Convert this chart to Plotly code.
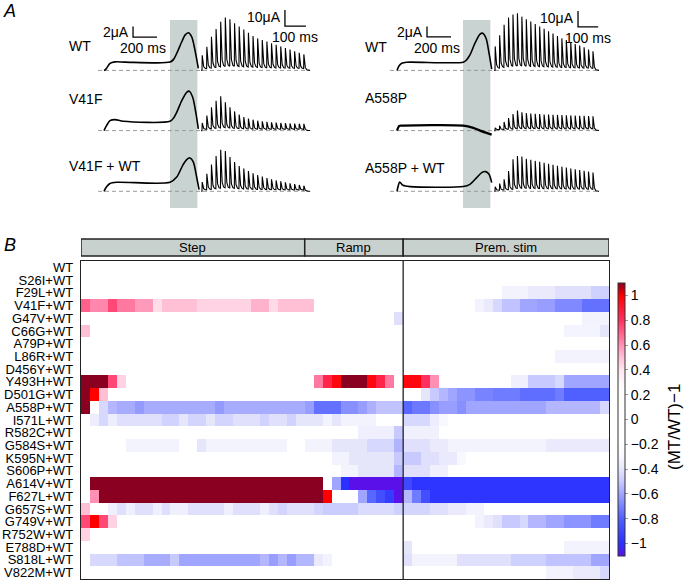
import numpy as np
import plotly.graph_objects as go

W, H = 687, 582
FONT = "Liberation Sans, Arial, Helvetica, sans-serif"

# ============================ DATA ============================
# ---- Panel A : step + ramp part (key points; ms, uA) ----
ramp_window_ms = [550, 778]
step_scale = (200, 2)      # ms, uA
spike_scale = (100, 10)    # ms, uA
spike_interval_ms = 22

wt_left_step_t = [0, 12, 25, 50, 92, 175, 550, 580, 606, 648, 675, 703, 731, 758, 786]
wt_left_step_i = [0, 0.15, 0.53, 1.33, 1.62, 1.58, 1.58, 2.1, 3.24, 5.45, 6.72, 7.16, 6.4, 3.87, 0.38]
v41f_step_t = [0, 20, 50, 92, 161, 550, 580, 606, 648, 689, 711, 739, 767, 786]
v41f_step_i = [0, 0.9, 1.9, 2.1, 1.77, 1.77, 2.4, 3.49, 5.71, 7.3, 7.5, 6.35, 3.18, 0.32]
v41f_wt_step_t = [0, 20, 50, 106, 550, 606, 656, 689, 717, 744, 772, 792]
v41f_wt_step_i = [0, 0.8, 1.47, 1.71, 1.71, 2.72, 4.95, 6.05, 6.36, 5.6, 2.72, 0.32]

wt_right_step_t = [0, 15, 40, 80, 553, 580, 608, 650, 692, 714, 742, 767, 789]
wt_right_step_i = [0, 0.8, 1.37, 1.56, 1.56, 2.0, 2.95, 5.18, 6.9, 7.09, 6.13, 3.28, 0.23]
a558p_step_t = [0, 19, 40, 553, 636, 692, 747, 789]
a558p_step_i = [0, 0.9, 0.95, 0.95, 0.51, 0.0, -0.44, -0.76]
a558p_wt_step_t = [0, 10, 22, 50, 108, 553, 608, 664, 706, 739, 767, 789]
a558p_wt_step_i = [0, 1.0, 1.77, 1.14, 0.9, 0.9, 1.33, 2.6, 3.56, 3.75, 3.24, 1.65]

# ---- Panel A : premature-stimulus spike peaks (uA) ----
wt_left_spikes = [9.5, 14.8, 21, 25.8, 30.4, 33, 32, 29.5, 27.5, 25.5, 23.5, 21.5,
                  20, 19, 18, 17, 16, 15, 14, 13, 12, 11, 10]
v41f_spikes = [4.8, 9.4, 14.6, 18.7, 21.4, 17.7, 14.6, 12, 10, 8.5, 7.5, 6.8,
               6.2, 5.8, 5.5, 5.2, 5, 4.8, 4.6, 4.5, 4.4, 4.3, 4.2]
v41f_wt_spikes = [5.8, 11, 16.7, 22, 26, 25.2, 21.4, 18.3, 15.8, 14.2, 12.7, 11.3,
                  10.2, 9.2, 8.3, 7.5, 6.8, 6.2, 5.6, 5, 4.5, 4, 3.5]
wt_right_spikes = [15, 22, 28.5, 33, 35, 35.7, 33.6, 32, 30.5, 29, 27.5, 26,
                   24.5, 23, 21.5, 20, 19, 17.5, 16.5, 15.5, 14.5, 13, 12]
a558p_spikes = [1.7, 3.1, 5.4, 7.9, 10.4, 12.5, 11.4, 11, 10.7, 10.5, 10.3, 10.1,
                10, 9.9, 9.8, 9.7, 9.6, 9.5, 9.4, 9.3, 9.2, 9.1, 9]
a558p_wt_spikes = [2.9, 4.8, 7.5, 12.7, 20, 22, 21.7, 20.4, 19.7, 19, 18.4, 17.8,
                   17.2, 16.6, 16, 15.4, 14.8, 14.3, 13.8, 13.3, 12.8, 12.3, 11.7]

trace_labels_left = ["WT", "V41F", "V41F + WT"]
trace_labels_right = ["WT", "A558P", "A558P + WT"]

# ---- Panel B : heat map ----
mutants = ["WT", "S26I+WT", "F29L+WT", "V41F+WT", "G47V+WT", "C66G+WT", "A79P+WT",
           "L86R+WT", "D456Y+WT", "Y493H+WT", "D501G+WT", "A558P+WT", "I571L+WT",
           "R582C+WT", "G584S+WT", "K595N+WT", "S606P+WT", "A614V+WT", "F627L+WT",
           "G657S+WT", "G749V+WT", "R752W+WT", "E788D+WT", "S818L+WT", "V822M+WT"]
sections = ["Step", "Ramp", "Prem. stim"]
section_ncols = [25, 11, 23]

# run-length rows: (number of columns, value of (MT/WT)-1)
heat_runs = [
    [(59, 0)],
    [(59, 0)],
    [(47, 0), (3, -0.33), (3, -0.38), (4, -0.42), (2, -0.48)],
    [(1, 0.7), (2, 0.62), (1, 0.75), (2, 0.65), (2, 0.58), (1, 0.42), (4, 0.5), (6, 0.45),
     (2, 0.53), (1, 0.43), (4, 0.5), (18, 0), (1, -0.33), (1, -0.38), (1, -0.45), (2, -0.52),
     (2, -0.6), (2, -0.62), (3, -0.68), (3, -0.75)],
    [(35, 0), (1, -0.42), (20, 0), (3, -0.33)],
    [(1, 0.5), (53, 0), (4, -0.32), (1, -0.4)],
    [(59, 0)],
    [(53, 0), (6, -0.33)],
    [(59, 0)],
    [(3, 1.3), (1, 0.75), (1, 0.45), (21, 0), (1, 0.65), (1, 0.85), (1, 0.97), (3, 1.3),
     (1, 0.97), (1, 0.85), (1, 0.65), (1, 0), (2, 0.97), (1, 0.8), (1, 0.6), (8, 0),
     (2, -0.35), (3, -0.5), (1, -0.45), (5, -0.6)],
    [(1, 1.3), (1, 1.0), (1, 0.5), (35, 0), (1, -0.4), (1, -0.5), (1, -0.55), (1, -0.6),
     (2, -0.65), (2, -0.7), (3, -0.72), (4, -0.76), (1, -0.72), (5, -0.8)],
    [(1, 1.3), (1, 0), (1, -0.45), (1, -0.55), (2, -0.58), (1, -0.63), (8, -0.58), (1, -0.63),
     (9, -0.58), (1, -0.62), (3, -0.75), (2, -0.66), (1, -0.62), (1, -0.57), (3, -0.52),
     (1, -0.78), (2, -0.73), (1, -0.66), (2, -0.62), (1, -0.66), (9, -0.6), (6, -0.55), (1, -0.45)],
    [(1, 0), (1, -0.36), (1, -0.45), (1, -0.36), (5, -0.42), (2, -0.47), (1, -0.4), (2, -0.46),
     (1, -0.4), (2, -0.46), (3, -0.42), (1, -0.47), (2, -0.42), (1, -0.47), (3, -0.4),
     (1, -0.33), (1, -0.4), (4, -0.33), (3, 0), (3, -0.45), (1, -0.36), (1, -0.3), (18, 0)],
    [(31, 0), (4, -0.35), (1, -0.5), (4, -0.34), (19, 0)],
    [(5, 0), (6, -0.33), (2, 0), (1, -0.4), (9, -0.33), (2, 0), (3, -0.33), (4, -0.4),
     (3, -0.45), (1, -0.56), (3, -0.42), (2, -0.38), (11, -0.33), (7, -0.38)],
    [(28, 0), (2, -0.33), (5, -0.4), (1, -0.5), (2, -0.5), (2, -0.42), (2, -0.38), (1, -0.3), (16, 0)],
    [(29, 0), (2, -0.33), (4, -0.4), (1, -0.55), (3, -0.42), (2, -0.35), (18, 0)],
    [(1, 0), (26, 1.3), (1, 0), (1, -0.6), (1, -1.0), (6, -1.12), (1, -0.9), (22, -0.98)],
    [(1, 0), (1, 0.6), (25, 1.3), (1, 1.0), (3, 0), (1, -0.6), (1, -0.78), (1, -0.87),
     (1, -0.95), (1, -1.12), (1, -0.55), (1, -0.72), (1, -0.87), (20, -0.98)],
    [(1, 0.5), (2, 0), (1, -0.35), (1, -0.42), (1, -0.35), (2, -0.42), (1, -0.35), (1, -0.42),
     (2, -0.35), (4, -0.42), (1, -0.35), (3, -0.42), (1, -0.35), (1, -0.42), (1, -0.46),
     (3, -0.42), (1, -0.46), (4, -0.49), (4, -0.44), (1, -0.48), (3, -0.46), (2, -0.42),
     (2, -0.38), (2, -0.33), (14, 0)],
    [(1, 0.75), (1, 1.0), (1, 0.75), (1, 0.45), (40, 0), (1, -0.33), (1, -0.38), (1, -0.42),
     (2, -0.5), (1, -0.45), (2, -0.55), (2, -0.6), (3, -0.65), (2, -0.72)],
    [(1, 0.45), (58, 0)],
    [(36, 0), (1, -0.4), (17, 0), (5, -0.33)],
    [(1, 0), (3, -0.45), (3, -0.52), (3, -0.58), (1, -0.5), (9, -0.6), (1, -0.55), (1, -0.62),
     (1, -0.55), (1, -0.62), (2, -0.55), (1, -0.38), (1, -0.33), (8, 0), (1, -0.42), (5, -0.33),
     (6, -0.42), (4, -0.48), (5, -0.52), (2, -0.6)],
    [(52, 0), (3, -0.33), (3, -0.38), (1, -0.45)],
]
cbar_ticks = [1, 0.8, 0.6, 0.4, 0.2, 0, -0.2, -0.4, -0.6, -0.8, -1]
cbar_title = "(MT/WT)\u22121"
zmin, zmax = -1.1, 1.1
color_stops = [(-1.1, "#5a10e8"), (-1.0, "#2a30ff"), (-0.8, "#5060ff"), (-0.6, "#a0a5ff"),
               (-0.5, "#c8caff"), (-0.4, "#e6e6fb"), (-0.3, "#f8f8ff"), (-0.2, "#ffffff"),
               (0.2, "#ffffff"), (0.3, "#fff8fb"), (0.4, "#ffe6ef"), (0.5, "#ffc0d6"),
               (0.6, "#ff90b4"), (0.8, "#ff3060"), (1.0, "#ff0000"), (1.1, "#8a0020")]

# ============================ HELPERS ============================
ncols = sum(section_ncols)


def expand(runs):
    out = []
    for n, v in runs:
        out += [v] * n
    assert len(out) == ncols, len(out)
    return out


def spike_wave(peaks, interval, tau=3.8, dt=0.5):
    ts, vs = [-4.0], [0.0]
    level = 0.0
    n = len(peaks)
    for k, p in enumerate(peaks):
        t0 = k * interval
        tail = 0.5 + 0.06 * p
        ts += [t0, t0 + 1.0]
        vs += [level, p]
        dur = interval - 1.0 if k < n - 1 else 30
        s = np.arange(dt, dur + 1e-9, dt)
        if k < n - 1:
            v = tail + (p - tail) * np.exp(-s / tau)
        else:
            v = tail * np.exp(-s / 8) + (p - tail) * np.exp(-s / tau)
        ts += (t0 + 1.0 + s).tolist()
        vs += v.tolist()
        level = float(v[-1])
    return ts, vs


def xcfg(dom_px, origin_px, scale):
    return dict(domain=[dom_px[0] / W, dom_px[1] / W],
                range=[(dom_px[0] - origin_px) / scale, (dom_px[1] - origin_px) / scale],
                visible=False, fixedrange=True)


def ycfg(base_px, scale, top_px, bot_px, anchor):
    return dict(domain=[1 - bot_px / H, 1 - top_px / H],
                range=[(base_px - bot_px) / scale, (base_px - top_px) / scale],
                visible=False, fixedrange=True, anchor=anchor)


# ============================ FIGURE ============================
fig = go.Figure()
layout = dict(width=W, height=H, margin=dict(l=0, r=0, t=0, b=0, autoexpand=False),
              paper_bgcolor="white", plot_bgcolor="rgba(0,0,0,0)",
              showlegend=False, font=dict(family=FONT, color="black", size=13))
shapes, annots = [], []

# ---- Panel A geometry (pixels) ----
STEP_PX_MS, STEP_PX_UA = 0.12, 5.25
SPK_PX_UA = 1.6
row_base = [70.4, 130.6, 191.3]
sides = [
    dict(step_origin=104, step_dom=(98, 200), spk_origin=202, spk_px_ms=0.21, spk_dom=(196, 322),
         steps=[(wt_left_step_t, wt_left_step_i), (v41f_step_t, v41f_step_i),
                (v41f_wt_step_t, v41f_wt_step_i)],
         spikes=[wt_left_spikes, v41f_spikes, v41f_wt_spikes],
         labels=trace_labels_left, label_x=67, dash=(98, 307),
         sb_step=(242, 6.34), sb_spk=(395, 27.7)),
    dict(step_origin=397, step_dom=(390, 494), spk_origin=495, spk_px_ms=0.202, spk_dom=(489, 615),
         steps=[(wt_right_step_t, wt_right_step_i), (a558p_step_t, a558p_step_i),
                (a558p_wt_step_t, a558p_wt_step_i)],
         spikes=[wt_right_spikes, a558p_spikes, a558p_wt_spikes],
         labels=trace_labels_right, label_x=363, dash=(390, 600),
         sb_step=(250, 6.38), sb_spk=(411, 27.2)),
]
label_y = [[46, 99, 166], [47, 98, 168]]

for s, sd in enumerate(sides):
    xs_step = f"x{2 + 2 * s}"
    xs_spk = f"x{3 + 2 * s}"
    layout[f"xaxis{2 + 2 * s}"] = xcfg(sd["step_dom"], sd["step_origin"], STEP_PX_MS)
    layout[f"xaxis{3 + 2 * s}"] = xcfg(sd["spk_dom"], sd["spk_origin"], sd["spk_px_ms"])
    # grey ramp window
    shapes.append(dict(type="rect", xref=xs_step, yref="paper", x0=ramp_window_ms[0],
                       x1=ramp_window_ms[1], y0=1 - 208 / H, y1=1 - 20 / H,
                       fillcolor="#c9d3d1", line=dict(width=0), layer="below"))
    for r in range(3):
        ys_step = f"y{2 + s * 6 + r * 2}"
        ys_spk = f"y{3 + s * 6 + r * 2}"
        b = row_base[r]
        top, bot = b - 66, b + 6
        layout[f"yaxis{2 + s * 6 + r * 2}"] = ycfg(b, STEP_PX_UA, top, bot, xs_step)
        layout[f"yaxis{3 + s * 6 + r * 2}"] = ycfg(b, SPK_PX_UA, top, bot, xs_spk)
        # dashed zero-current line
        shapes.append(dict(type="line", xref="paper", yref=ys_step,
                           x0=sd["dash"][0] / W, x1=sd["dash"][1] / W, y0=0, y1=0,
                           line=dict(color="#9a9a9a", width=1, dash="4px,3px"), layer="below"))
        t, i = sd["steps"][r]
        lw = 2.2 if (s == 1 and r == 1) else 1.6
        fig.add_trace(go.Scatter(x=t, y=i, mode="lines", xaxis=xs_step, yaxis=ys_step,
                                 line=dict(color="black", width=lw, shape="spline", smoothing=0.8),
                                 hoverinfo="skip"))
        ts, vs = spike_wave(sd["spikes"][r], spike_interval_ms)
        fig.add_trace(go.Scatter(x=ts, y=vs, mode="lines", xaxis=xs_spk, yaxis=ys_spk,
                                 line=dict(color="black", width=1.1), hoverinfo="skip"))
        annots.append(dict(text=sd["labels"][r], xref="paper", yref="paper",
                           x=sd["label_x"] / W, y=1 - label_y[s][r] / H, xanchor="left",
                           yanchor="middle", showarrow=False, font=dict(size=14)))
    # scale bars (row 0 axes)
    ys_step0, ys_spk0 = f"y{2 + s * 6}", f"y{3 + s * 6}"
    bx, by = sd["sb_step"]
    fig.add_trace(go.Scatter(x=[bx, bx, bx + step_scale[0]], y=[by + step_scale[1], by, by],
                             mode="lines", xaxis=xs_step, yaxis=ys_step0,
                             line=dict(color="black", width=1.3), hoverinfo="skip"))
    annots.append(dict(text=f"{step_scale[1]}\u03bcA", xref=xs_step, yref=ys_step0, x=bx,
                       y=by + step_scale[1] / 2, xanchor="right", yanchor="middle", xshift=-2,
                       showarrow=False, font=dict(size=14)))
    annots.append(dict(text=f"{step_scale[0]} ms", xref=xs_step, yref=ys_step0,
                       x=bx + step_scale[0] / 2 - 20, y=by, xanchor="center", yanchor="top",
                       yshift=-1, showarrow=False, font=dict(size=14)))
    bx, by = sd["sb_spk"]
    fig.add_trace(go.Scatter(x=[bx, bx, bx + spike_scale[0]], y=[by + spike_scale[1], by, by],
                             mode="lines", xaxis=xs_spk, yaxis=ys_spk0,
                             line=dict(color="black", width=1.3), hoverinfo="skip"))
    annots.append(dict(text=f"{spike_scale[1]}\u03bcA", xref=xs_spk, yref=ys_spk0, x=bx,
                       y=by + spike_scale[1] / 2 + 0.5, xanchor="right", yanchor="middle",
                       xshift=-2, showarrow=False, font=dict(size=14)))
    annots.append(dict(text=f"{spike_scale[0]} ms", xref=xs_spk, yref=ys_spk0,
                       x=bx + spike_scale[0] / 2, y=by, xanchor="center", yanchor="top",
                       yshift=-1, showarrow=False, font=dict(size=14)))

# panel letters
annots.append(dict(text="<i>A</i>", xref="paper", yref="paper", x=1 / W, y=1 - 11 / H,
                   xanchor="left", yanchor="middle", showarrow=False, font=dict(size=18)))
annots.append(dict(text="<i>B</i>", xref="paper", yref="paper", x=2 / W, y=1 - 245 / H,
                   xanchor="left", yanchor="middle", showarrow=False, font=dict(size=18)))

# ---- Panel B ----
Z = [expand(r) for r in heat_runs]
cs = [[(v - zmin) / (zmax - zmin), c] for v, c in color_stops]
fig.add_trace(go.Heatmap(
    z=Z, x=list(range(ncols)), y=mutants, colorscale=cs, zmin=zmin, zmax=zmax,
    xaxis="x", yaxis="y", hoverinfo="skip",
    colorbar=dict(x=618 / W, xanchor="left", y=1 - 419.5 / H, yanchor="middle",
                  len=273, lenmode="pixels", thickness=7, thicknessmode="pixels",
                  xpad=0, ypad=0, outlinewidth=1, outlinecolor="#333",
                  tickvals=cbar_ticks,
                  ticktext=[(f"{v:g}".replace("-", "\u2212")) for v in cbar_ticks],
                  ticks="outside", ticklen=3, tickcolor="#999",
                  tickfont=dict(size=14))))
# colour-bar title as a rotated annotation
annots.append(dict(text=cbar_title, xref="paper", yref="paper", x=675 / W, y=1 - 427 / H,
                   xanchor="center", yanchor="middle", textangle=-90, showarrow=False,
                   font=dict(size=17)))
layout["xaxis"] = dict(domain=[81 / W, 609 / W], range=[-0.5, ncols - 0.5], showticklabels=False,
                       ticks="", showgrid=False, zeroline=False, showline=True, mirror=True,
                       linecolor="#222", linewidth=1.3, fixedrange=True)
layout["yaxis"] = dict(domain=[1 - 579 / H, 1 - 261 / H], type="category",
                       range=[len(mutants) - 0.5, -0.5], ticks="", ticklabelstandoff=4,
                       tickmode="array", tickvals=mutants, ticktext=mutants,
                       showgrid=False, zeroline=False, showline=True, mirror=True,
                       linecolor="#222", linewidth=1.3, tickfont=dict(size=13), fixedrange=True)

# section header strip
start = 0
for name, n in zip(sections, section_ncols):
    x0, x1 = start - 0.5, start + n - 0.5
    shapes.append(dict(type="rect", xref="x", yref="paper", x0=x0, x1=x1,
                       y0=1 - 256 / H, y1=1 - 239 / H, fillcolor="#c9d1cf",
                       line=dict(color="#222", width=1.5)))
    annots.append(dict(text=name, xref="x", yref="paper", x=(x0 + x1) / 2,
                       y=1 - 247.5 / H, xanchor="center", yanchor="middle",
                       showarrow=False, font=dict(size=13)))
    start += n
# divider between ramp and premature-stimulus columns
div = section_ncols[0] + section_ncols[1] - 0.5
shapes.append(dict(type="line", xref="x", yref="y domain", x0=div, x1=div, y0=0, y1=1,
                   line=dict(color="#222", width=1.3)))

layout["shapes"] = shapes
layout["annotations"] = annots
fig.update_layout(**layout)
fig.write_html("out.html", config={"displayModeBar": False, "staticPlot": True},
               post_script="document.body.style.margin='0px';document.body.style.overflow='hidden';")
